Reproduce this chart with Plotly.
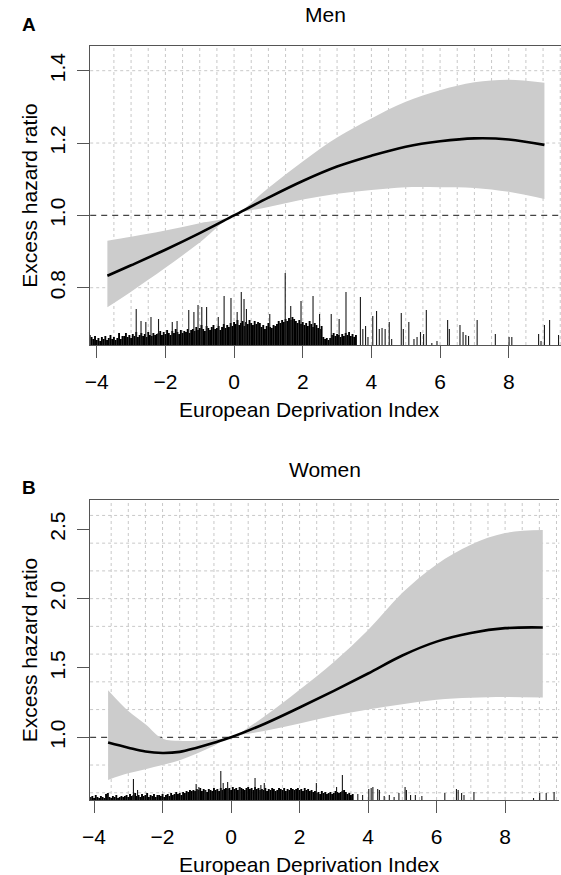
import numpy as np
import plotly.graph_objects as go

W, H = 561, 875

# ---------------- data: Men (panel A) ----------------
men_x = [-3.69, -3.0, -2.0, -1.0, 0.0, 1.0, 2.0, 3.0, 4.0, 5.0, 6.0, 7.0, 8.0, 9.04]
men_hr = [0.833, 0.862, 0.905, 0.951, 1.0, 1.049, 1.095, 1.135, 1.165, 1.19, 1.205, 1.213, 1.21, 1.195]
men_hi = [0.930, 0.941, 0.958, 0.978, 1.0, 1.0755, 1.149, 1.215, 1.268, 1.314, 1.346, 1.368, 1.375, 1.367]
men_lo = [0.746, 0.789, 0.855, 0.925, 1.0, 1.023, 1.044, 1.060, 1.070, 1.078, 1.078, 1.076, 1.065, 1.045]

# rug counts (dense bins of 0.05 from -4.20 to 3.55)
men_dense_start, men_dense_step = -4.20, 0.05
men_dense_counts = [
    10, 8, 6, 9, 5, 7, 4, 8, 6, 9, 5, 7, 10, 6, 8, 5, 7, 12, 6, 9,
    9, 12, 8, 10, 7, 11, 9, 13, 8, 10, 12, 9, 11, 8, 13, 10, 9, 12, 10, 11,
    12, 14, 10, 13, 11, 15, 12, 10, 14, 12, 16, 13, 11, 15, 12, 14, 13, 16, 12, 15,
    16, 14, 18, 15, 17, 20, 16, 14, 19, 17, 15, 18, 20, 16, 17, 19, 15, 18, 21, 17,
    20, 18, 22, 19, 23, 21, 25, 20, 22, 24, 19, 23, 21, 25, 22, 20, 24, 21, 23, 22,
    18, 20, 16, 19, 22, 18, 17, 20, 19, 21, 24, 22, 25, 23, 26, 24, 27, 25, 28, 26,
    24, 22, 25, 21, 23, 20, 22, 19, 24, 21, 18, 22, 20, 17, 16, 19, 8, 6, 7, 5,
    7, 10, 12, 9, 11, 10, 8, 11, 9, 12, 10, 13, 9, 11, 8, 10,
]
men_spike_x = [-2.85, -2.71, -2.57, -2.42, -2.20, -1.80, -1.66, -1.32, -1.17, -1.05, -0.94, -0.80,
               -0.46, -0.29, -0.09, 0.09, 0.21, 0.29, 0.36, 0.70, 1.04, 1.49, 1.65, 1.95, 2.30,
               2.49, 2.83, 3.06, 3.26,
               3.68, 3.75, 3.83, 3.90, 4.04, 4.15, 4.23, 4.31, 4.40, 4.52, 4.59, 4.87, 4.93, 5.09,
               5.24, 5.33, 5.43, 5.52, 5.60, 5.76, 5.91, 6.22, 6.27, 6.58, 6.67, 6.75, 6.83, 7.08,
               7.61, 8.01, 8.09, 8.87, 8.94, 9.04, 9.19, 9.45]
men_spike_counts = [36, 24, 23, 28, 26, 23, 24, 35, 33, 40, 38, 38,
                    28, 49, 47, 33, 53, 46, 36, 23, 31, 72, 39, 44, 49,
                    31, 31, 26, 53,
                    48, 16, 19, 8, 29, 34, 16, 17, 16, 23, 6, 32, 16, 23,
                    6, 8, 13, 11, 35, 2, 4, 25, 16, 20, 13, 10, 9, 25,
                    11, 8, 8, 11, 4, 20, 25, 10]

# ---------------- data: Women (panel B) ----------------
wom_x = [-3.59, -3.0, -2.5, -2.0, -1.5, -1.0, -0.5, 0.0, 1.0, 2.0, 3.0, 4.0, 5.0, 6.0, 7.0, 8.0, 9.1]
wom_hr = [0.962, 0.925, 0.897, 0.887, 0.895, 0.925, 0.960, 1.0, 1.10, 1.215, 1.335, 1.46, 1.59, 1.69, 1.752, 1.787, 1.792]
wom_hi = [1.34, 1.19, 1.095, 0.99, 0.975, 0.976, 0.986, 1.0, 1.156, 1.343, 1.543, 1.774, 2.042, 2.247, 2.389, 2.473, 2.495]
wom_lo = [0.693, 0.74, 0.77, 0.80, 0.835, 0.884, 0.939, 1.0, 1.047, 1.10, 1.155, 1.20, 1.238, 1.271, 1.285, 1.291, 1.287]

wom_dense_start, wom_dense_step = -4.10, 0.05
wom_dense_counts = [
    3, 4, 2, 5, 3, 2, 4, 3, 2, 6, 7, 3, 2, 4, 3, 5, 2, 3, 4, 3,
    4, 5, 3, 6, 4, 5, 7, 4, 5, 3, 6, 4, 5, 7, 3, 5, 4, 6, 3, 5,
    5, 4, 6, 3, 5, 6, 4, 7, 5, 6, 8, 6, 7, 5, 8, 7, 9, 8, 10, 9,
    10, 9, 11, 10, 12, 9, 11, 10, 8, 11, 10, 9, 12, 10, 11, 9, 12, 10, 11, 12,
    11, 12, 10, 13, 11, 12, 10, 13, 12, 11, 10, 12, 13, 11, 12, 10, 13, 11, 12, 10,
    11, 10, 12, 9, 11, 10, 12, 11, 9, 10, 12, 11, 10, 12, 9, 11, 10, 12, 11, 10,
    11, 12, 10, 11, 9, 12, 10, 11, 9, 10, 8, 9, 7, 8, 6, 9, 7, 8, 6, 7,
    8, 6, 7, 9, 8, 7, 8, 9, 10, 8, 6, 7, 5, 6,
]
wom_spike_x = [-3.59, -2.85, -2.73, -1.02, -0.94, -0.75, -0.56, -0.30, -0.23, -0.10, 0.25, 0.70,
               0.87, 0.97, 2.49, 3.08, 3.25,
               3.70, 3.84, 4.02, 4.09, 4.14, 4.28, 4.33, 4.47, 4.62, 4.76, 4.90, 5.08, 5.12,
               5.24, 5.38, 5.57, 6.24, 6.58, 6.63, 6.73, 6.80, 7.09, 8.83, 9.01, 9.20, 9.43]
wom_spike_counts = [7, 21, 10, 16, 13, 10, 7, 29, 17, 18, 13, 22,
                    15, 17, 17, 13, 25,
                    6, 5, 11, 12, 13, 11, 10, 4, 5, 3, 7, 13, 10,
                    5, 5, 4, 7, 11, 10, 7, 5, 8, 2, 7, 7, 8]

x_tickvals = [-4, -2, 0, 2, 4, 6, 8]
x_ticktext = ["\u22124", "\u22122", "0", "2", "4", "6", "8"]
men_yticks = [0.8, 1.0, 1.2, 1.4]
wom_yticks = [1.0, 1.5, 2.0, 2.5]

# ---------------- layout geometry (pixels) ----------------
FONT = "Liberation Sans, Arial, Helvetica, sans-serif"
panels = [
    dict(name="A", title="Men", xs=men_x, hr=men_hr, hi=men_hi, lo=men_lo,
         dstart=men_dense_start, dstep=men_dense_step, dcounts=men_dense_counts,
         sx=men_spike_x, sc=men_spike_counts,
         left=83.4, right=561.0, top=46.0, bottom=345.0,
         xr=[-4.19, -4.19 + (561.0 - 83.4) / 34.83],
         yr=[0.6416, 1.4683], yticks=men_yticks, ytext=["0.8", "1.0", "1.2", "1.4"],
         hgrid=[0.8, 1.0, 1.2, 1.4], pxu=361.67,
         title_y=15, letter_y=24, xtitle_y=409, ytitle_y=195.5),
    dict(name="B", title="Women", xs=wom_x, hr=wom_hr, hi=wom_hi, lo=wom_lo,
         dstart=wom_dense_start, dstep=wom_dense_step, dcounts=wom_dense_counts,
         sx=wom_spike_x, sc=wom_spike_counts,
         left=83.3, right=559.3, top=500.0, bottom=800.0,
         xr=[-4.115, 9.583],
         yr=[0.5479, 2.7113], yticks=wom_yticks, ytext=["1.0", "1.5", "2.0", "2.5"],
         hgrid=[0.6, 0.8, 1.0, 1.2, 1.4, 1.6, 1.8, 2.0, 2.2, 2.4, 2.6], pxu=138.67,
         title_y=469, letter_y=487, xtitle_y=864, ytitle_y=650),
]
vgrid = [v / 2 for v in range(-7, 20)]  # -3.5 .. 9.5 by 0.5

fig = go.Figure()
shapes = []
annotations = []

for i, p in enumerate(panels):
    xa = "x" if i == 0 else "x2"
    ya = "y" if i == 0 else "y2"
    base = p["yr"][0]
    # band
    fig.add_trace(go.Scatter(x=p["xs"], y=p["lo"], mode="lines", line=dict(width=0, shape="spline"),
                             hoverinfo="skip", showlegend=False, xaxis=xa, yaxis=ya))
    fig.add_trace(go.Scatter(x=p["xs"], y=p["hi"], mode="lines", line=dict(width=0, shape="spline"),
                             fill="tonexty", fillcolor="#cccccc",
                             hoverinfo="skip", showlegend=False, xaxis=xa, yaxis=ya))
    # curve
    fig.add_trace(go.Scatter(x=p["xs"], y=p["hr"], mode="lines",
                             line=dict(color="black", width=2.6, shape="spline"),
                             showlegend=False, xaxis=xa, yaxis=ya))
    # rug histogram: dense mass and individual spikes
    scale = 1.0 / p["pxu"]
    rx, ry = [], []
    for k, c in enumerate(p["dcounts"]):
        xv = round(p["dstart"] + k * p["dstep"], 3)
        rx += [xv, xv, None]
        ry += [base, base + c * scale, None]
    fig.add_trace(go.Scatter(x=rx, y=ry, mode="lines", line=dict(color="#000000", width=1.9),
                             hoverinfo="skip", showlegend=False, xaxis=xa, yaxis=ya))
    sx, sy = [], []
    for xv, c in zip(p["sx"], p["sc"]):
        sx += [xv, xv, None]
        sy += [base, base + c * scale, None]
    fig.add_trace(go.Scatter(x=sx, y=sy, mode="lines", line=dict(color="#1a1a1a", width=1.1),
                             hoverinfo="skip", showlegend=False, xaxis=xa, yaxis=ya))

    # grid shapes
    for v in vgrid:
        if p["xr"][0] < v < p["xr"][1]:
            shapes.append(dict(type="line", xref=xa, yref=ya + " domain", x0=v, x1=v, y0=0, y1=1,
                               line=dict(color="#c8c8c8", width=1, dash="dot"), layer="below"))
    for h in p["hgrid"]:
        if h == 1.0:
            continue
        shapes.append(dict(type="line", xref=xa + " domain", yref=ya, x0=0, x1=1, y0=h, y1=h,
                           line=dict(color="#c8c8c8", width=1, dash="dot"), layer="below"))
    shapes.append(dict(type="line", xref=xa + " domain", yref=ya, x0=0, x1=1, y0=1.0, y1=1.0,
                       line=dict(color="#444444", width=1.3, dash="6px,5px"), layer="below"))

    # texts
    annotations.append(dict(text=p["title"], x=322 / W, y=1 - p["title_y"] / H, xref="paper", yref="paper",
                            showarrow=False, xanchor="center", yanchor="middle",
                            font=dict(family=FONT, size=21, color="black")))
    annotations.append(dict(text="<b>%s</b>" % p["name"], x=21.5 / W, y=1 - p["letter_y"] / H,
                            xref="paper", yref="paper", showarrow=False, xanchor="center", yanchor="middle",
                            font=dict(family=FONT, size=19, color="black")))
    annotations.append(dict(text="European Deprivation Index", x=306 / W, y=1 - p["xtitle_y"] / H,
                            xref="paper", yref="paper", showarrow=False, xanchor="center", yanchor="middle",
                            font=dict(family=FONT, size=21, color="black")))
    annotations.append(dict(text="Excess hazard ratio", x=21.5 / W, y=1 - p["ytitle_y"] / H, textangle=-90,
                            xref="paper", yref="paper", showarrow=False, xanchor="center", yanchor="middle",
                            font=dict(family=FONT, size=21, color="black")))

    axis_common = dict(showgrid=False, zeroline=False, showline=True, linecolor="#555555", linewidth=1.3,
                       ticks="outside", ticklen=12, tickwidth=1.3, tickcolor="#555555",
                       tickfont=dict(family=FONT, size=21, color="black"))
    xkey = "xaxis" if i == 0 else "xaxis2"
    ykey = "yaxis" if i == 0 else "yaxis2"
    fig.update_layout(**{
        xkey: dict(domain=[p["left"] / W, p["right"] / W], range=p["xr"], anchor=ya,
                   tickvals=x_tickvals, ticktext=x_ticktext, mirror=True, ticklabelstandoff=6,
                   **axis_common),
        ykey: dict(domain=[1 - p["bottom"] / H, 1 - p["top"] / H], range=p["yr"], anchor=xa,
                   tickvals=p["yticks"], ticktext=p["ytext"], tickangle=-90, ticklabelstandoff=4,
                   **axis_common),
    })

fig.update_layout(width=W, height=H, margin=dict(l=0, r=0, t=0, b=0),
                  paper_bgcolor="white", plot_bgcolor="white",
                  shapes=shapes, annotations=annotations, showlegend=False,
                  font=dict(family=FONT, size=21, color="black"))

# remove the browser's default 8px body margin so the figure sits at the page origin
fig.write_html("out.html", config={"displayModeBar": False},
               post_script="document.body.style.margin='0';document.body.style.overflow='hidden';")
